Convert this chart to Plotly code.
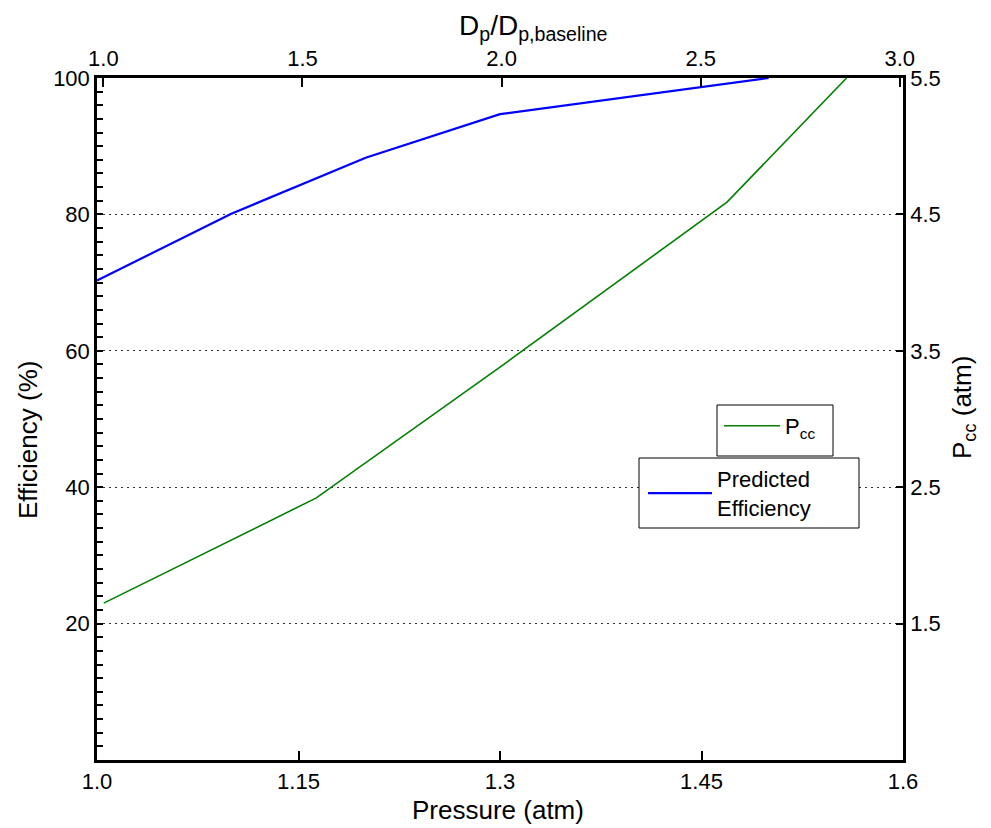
import plotly.graph_objects as go

# ---- data ----
pressure_eff = [1.0, 1.1, 1.2, 1.3, 1.5]
efficiency = [70.3, 80.1, 88.3, 94.7, 100.0]

pressure_pcc = [1.005, 1.163, 1.30, 1.469, 1.558]
pcc = [1.65, 2.42, 3.38, 4.59, 5.5]

bottom_ticks = [1.0, 1.15, 1.3, 1.45, 1.6]
bottom_labels = ["1.0", "1.15", "1.3", "1.45", "1.6"]
top_ticks = [1.0, 1.5, 2.0, 2.5, 3.0]
top_labels = ["1.0", "1.5", "2.0", "2.5", "3.0"]
left_ticks = [20, 40, 60, 80, 100]
right_ticks = [1.5, 2.5, 3.5, 4.5, 5.5]

FONT = "Liberation Sans, Arial, Helvetica, sans-serif"
TICKF = dict(family=FONT, size=22, color="black")

# plot-area geometry (pixels) used to place paper-referenced items
L, R, T, B = 97, 903, 78, 760
W, H = R - L, B - T


def px(x):
    return (x - L) / W


def py(y):
    return (B - y) / H


fig = go.Figure()
fig.add_trace(go.Scatter(x=pressure_pcc, y=pcc, mode="lines", name="P<sub>cc</sub>",
                         line=dict(color="#008000", width=1.6),
                         xaxis="x", yaxis="y2", legend="legend"))
fig.add_trace(go.Scatter(x=pressure_eff, y=efficiency, mode="lines",
                         name="Predicted<br>Efficiency",
                         line=dict(color="#0000ff", width=2.2),
                         xaxis="x", yaxis="y", legend="legend2"))
# invisible helper trace so the top axis is drawn
fig.add_trace(go.Scatter(x=top_ticks, y=[None] * len(top_ticks), xaxis="x2", yaxis="y",
                         showlegend=False, hoverinfo="skip"))

GRID_DASH = "2px,4px"

fig.update_layout(
    width=991, height=828,
    margin=dict(l=L, r=991 - R, t=T, b=828 - B),
    plot_bgcolor="white", paper_bgcolor="white",
    font=dict(family=FONT, size=22, color="black"),
    xaxis=dict(range=[1.0, 1.6], tickvals=bottom_ticks, ticktext=bottom_labels,
               ticks="inside", ticklen=9, tickwidth=1.5, tickcolor="black",
               showline=True, linecolor="black", linewidth=2.5,
               showgrid=False, zeroline=False, tickfont=TICKF),
    xaxis2=dict(range=[0.984, 3.008], overlaying="x", side="top",
                tickvals=top_ticks, ticktext=top_labels,
                ticks="inside", ticklen=9, tickwidth=1.5, tickcolor="black",
                showline=True, linecolor="black", linewidth=2.5,
                showgrid=False, zeroline=False, tickfont=TICKF),
    yaxis=dict(range=[0, 100], tickvals=left_ticks,
               ticks="inside", ticklen=6, tickwidth=1.5, tickcolor="black",
               minor=dict(dtick=2, ticks="inside", ticklen=6, tickwidth=1.5,
                          tickcolor="black", showgrid=False),
               showline=True, linecolor="black", linewidth=2.5,
               showgrid=True, gridcolor="rgba(0,0,0,0.8)", gridwidth=1, griddash=GRID_DASH,
               zeroline=False, tickfont=TICKF),
    yaxis2=dict(range=[0.5, 5.5], overlaying="y", side="right",
                tickvals=right_ticks,
                ticks="inside", ticklen=7, tickwidth=1.5, tickcolor="black",
                showline=True, linecolor="black", linewidth=2.5,
                showgrid=False, zeroline=False, tickfont=TICKF),
    legend=dict(x=px(719), y=py(405), xanchor="left", yanchor="top",
                borderwidth=0, bgcolor="rgba(0,0,0,0)", itemwidth=56,
                font=dict(family=FONT, size=22)),
    legend2=dict(x=px(643), y=py(458), xanchor="left", yanchor="top",
                 borderwidth=0, bgcolor="rgba(0,0,0,0)", itemwidth=64,
                 font=dict(family=FONT, size=22)),
    showlegend=True,
)

# legend frames
fig.add_shape(type="rect", xref="paper", yref="paper", layer="above",
              x0=px(717), x1=px(833), y0=py(456), y1=py(405),
              line=dict(color="black", width=1), fillcolor="white")
fig.add_shape(type="rect", xref="paper", yref="paper", layer="above",
              x0=px(639), x1=px(859), y0=py(528), y1=py(458),
              line=dict(color="black", width=1), fillcolor="white")

fig.add_annotation(text="D<sub>p</sub>/D<sub>p,baseline</sub>", xref="paper", yref="paper",
                   x=px(533), y=py(27), showarrow=False,
                   font=dict(family=FONT, size=28), xanchor="center", yanchor="middle")
fig.add_annotation(text="Pressure (atm)", xref="paper", yref="paper",
                   x=px(498), y=py(810), showarrow=False,
                   font=dict(family=FONT, size=26), xanchor="center", yanchor="middle")
fig.add_annotation(text="Efficiency (%)", xref="paper", yref="paper",
                   x=px(28), y=py(440), showarrow=False, textangle=-90,
                   font=dict(family=FONT, size=26), xanchor="center", yanchor="middle")
fig.add_annotation(text="P<sub>cc</sub> (atm)", xref="paper", yref="paper",
                   x=px(963), y=py(408), showarrow=False, textangle=-90,
                   font=dict(family=FONT, size=26), xanchor="center", yanchor="middle")

fig.write_html("out.html")
